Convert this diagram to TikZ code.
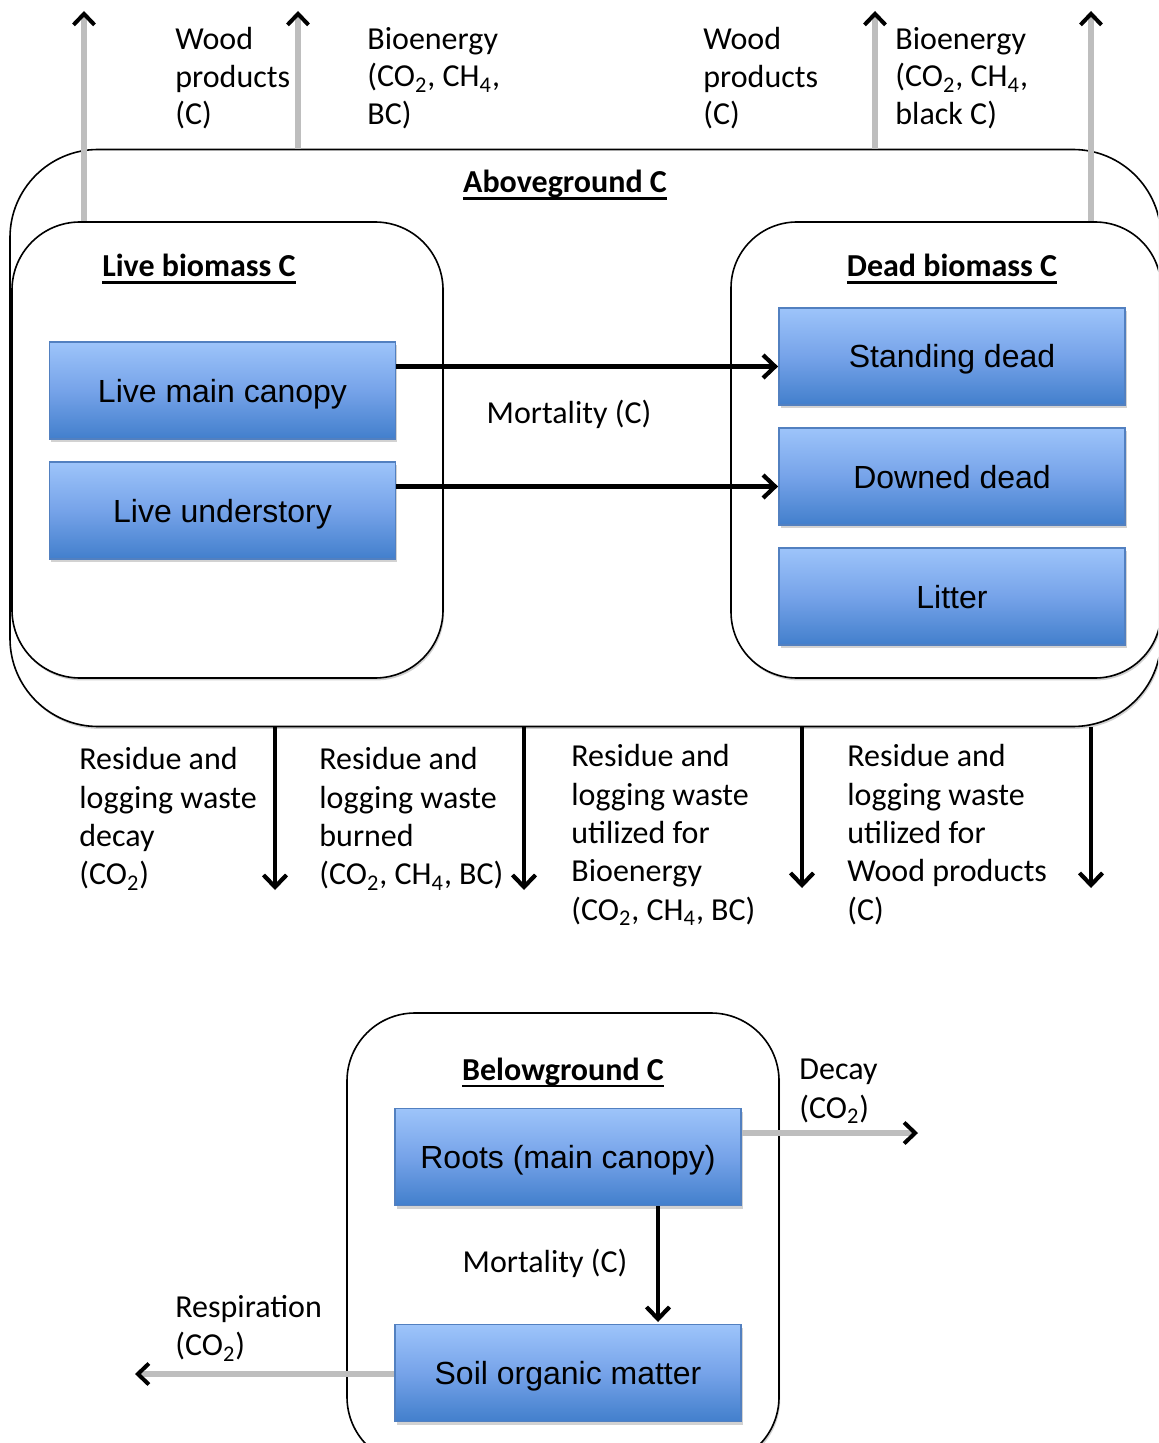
\documentclass[tikz,border=0pt]{standalone}
\usepackage{fontspec}
\setmainfont{Carlito}
\newfontfamily\arialf{Liberation Sans}
\usetikzlibrary{arrows.meta,shadows,calc}
\definecolor{boxtop}{RGB}{157,196,250}
\definecolor{boxmid}{RGB}{118,163,233}
\definecolor{boxbot}{RGB}{66,127,204}
\definecolor{boxline}{RGB}{82,128,192}
\definecolor{flowgray}{RGB}{190,190,190}
\newcommand{\ctwo}{CO\textsubscript{2}}
\newcommand{\cfour}{CH\textsubscript{4}}
\newcommand{\hdul}[1]{{\setbox0\hbox{#1}\rlap{\rule[-3.4pt]{\wd0}{1.15pt}}\box0}}
\begin{document}
\begin{tikzpicture}[x=0.5pt,y=-0.5pt,
  container/.style={draw=black, line width=0.8pt, fill=white, inner sep=0pt,
    drop shadow={shadow xshift=0.6pt, shadow yshift=-1.2pt, opacity=0.3, fill=black!60}},
  bluebox/.style={draw=boxline, line width=0.9pt, top color=boxtop, bottom color=boxbot,
    middle color=boxmid, minimum width=173pt, minimum height=48.5pt, inner sep=0pt,
    text height=11.5pt, text depth=0pt,
    font=\arialf\fontsize{16}{19}\selectfont,
    drop shadow={shadow xshift=0.8pt, shadow yshift=-1.5pt, opacity=0.35, fill=black!50}},
  header/.style={font=\fontsize{16}{19}\selectfont\bfseries, inner sep=0pt, anchor=base},
  lbl/.style={font=\fontsize{16}{19.2}\selectfont, align=left, inner sep=0pt, anchor=north west},
  toplbl/.style={lbl, font=\fontsize{16}{18.75}\selectfont},
  clbl/.style={font=\fontsize{16}{19}\selectfont, inner sep=0pt},
  blk/.style={line width=2.3pt, -{Straight Barb[length=6pt,width=11.5pt,line width=2.1pt]}},
  gry/.style={line width=2.6pt, draw=flowgray,
    -{Straight Barb[color=black,length=5.5pt,width=10.5pt,line width=2pt]}}
]
\useasboundingbox (0,0) rectangle (1158,1443);
\begin{scope}
\clip (0,0) rectangle (1158,1443);

% containers
\node[container, rounded corners=44pt, minimum width=575.5pt, minimum height=288.5pt] (above) at (585.5,438) {};
\node[container, rounded corners=34pt, minimum width=215.5pt, minimum height=228pt] (live) at (227.5,450) {};
\node[container, rounded corners=33pt, minimum width=215pt, minimum height=228pt] (dead) at (946,450) {};
\node[container, rounded corners=34pt, minimum width=216pt, minimum height=226pt] (below) at (563,1239) {};

% headers
\node[header] (habove) at (565,193) {\hdul{Aboveground C}};
\node[header] (hlive) at (199,277) {\hdul{Live biomass C}};
\node[header] (hdead) at (952,277) {\hdul{Dead biomass C}};
\node[header] (hbelow) at (563,1080) {\hdul{Belowground C}};

% blue boxes
\node[bluebox] (canopy) at (222.5,390.5) {Live main canopy};
\node[bluebox] (under) at (222.5,510.5) {Live understory};
\node[bluebox] (standing) at (952,356.5) {Standing dead};
\node[bluebox] (downed) at (952,476.5) {Downed dead};
\node[bluebox] (litter) at (952,596.5) {Litter};
\node[bluebox] (roots) at (568,1157) {Roots (main canopy)};
\node[bluebox] (soil) at (568,1373) {Soil organic matter};

% mortality arrows
\draw[blk] ([yshift=12pt]canopy.east) -- ([yshift=12pt]canopy.east -| standing.west);
\draw[blk] ([yshift=12pt]under.east) -- ([yshift=12pt]under.east -| downed.west);
\node[clbl] (mort) at (569,414) {Mortality (C)};

% top arrows
\coordinate (t1) at (84,11);
\coordinate (t2) at (298,11);
\coordinate (t3) at (875,11);
\coordinate (t4) at (1091,11);
\draw[gry] (t1 |- live.north) -- (t1);
\draw[gry] (t2 |- above.north) -- (t2);
\draw[gry] (t3 |- above.north) -- (t3);
\draw[gry] (t4 |- dead.north) -- (t4);

\node[toplbl] (l1) at (175,27) {Wood\\products\\(C)};
\node[toplbl] (l2) at (367,27) {Bioenergy\\(\ctwo, \cfour,\\BC)};
\node[toplbl] (l3) at (703,27) {Wood\\products\\(C)};
\node[toplbl] (l4) at (895,27) {Bioenergy\\(\ctwo, \cfour,\\black C)};

% bottom arrows
\coordinate (b1) at (275,890);
\coordinate (b2) at (524,890);
\coordinate (b3) at (802,888);
\coordinate (b4) at (1091,888);
\draw[blk] (b1 |- above.south) -- (b1);
\draw[blk] (b2 |- above.south) -- (b2);
\draw[blk] (b3 |- above.south) -- (b3);
\draw[blk] (b4 |- above.south) -- (b4);

\node[lbl] (r1) at (79,747) {Residue and\\logging waste\\decay\\(\ctwo)};
\node[lbl] (r2) at (319,747) {Residue and\\logging waste\\burned\\(\ctwo, \cfour, BC)};
\node[lbl] (r3) at (571,744) {Residue and\\logging waste\\utilized for\\Bioenergy\\(\ctwo, \cfour, BC)};
\node[lbl] (r4) at (847,744) {Residue and\\logging waste\\utilized for\\Wood products\\(C)};

% belowground flows
\coordinate (mroot) at (658,1322);
\draw[blk] (mroot |- roots.south) -- (mroot);
\node[clbl] (mort2) at (545,1263) {Mortality (C)};

\coordinate (dec) at (918,1133);
\draw[gry] ([yshift=12pt]roots.east) -- (dec);
\node[lbl] (ldec) at (799,1059) {Decay\\(\ctwo)};

\coordinate (resp) at (135,1374);
\draw[gry] (soil.west |- resp) -- (resp);
\node[lbl] (lresp) at (175,1295) {Respiration\\(\ctwo)};
\end{scope}
\end{tikzpicture}
\end{document}
